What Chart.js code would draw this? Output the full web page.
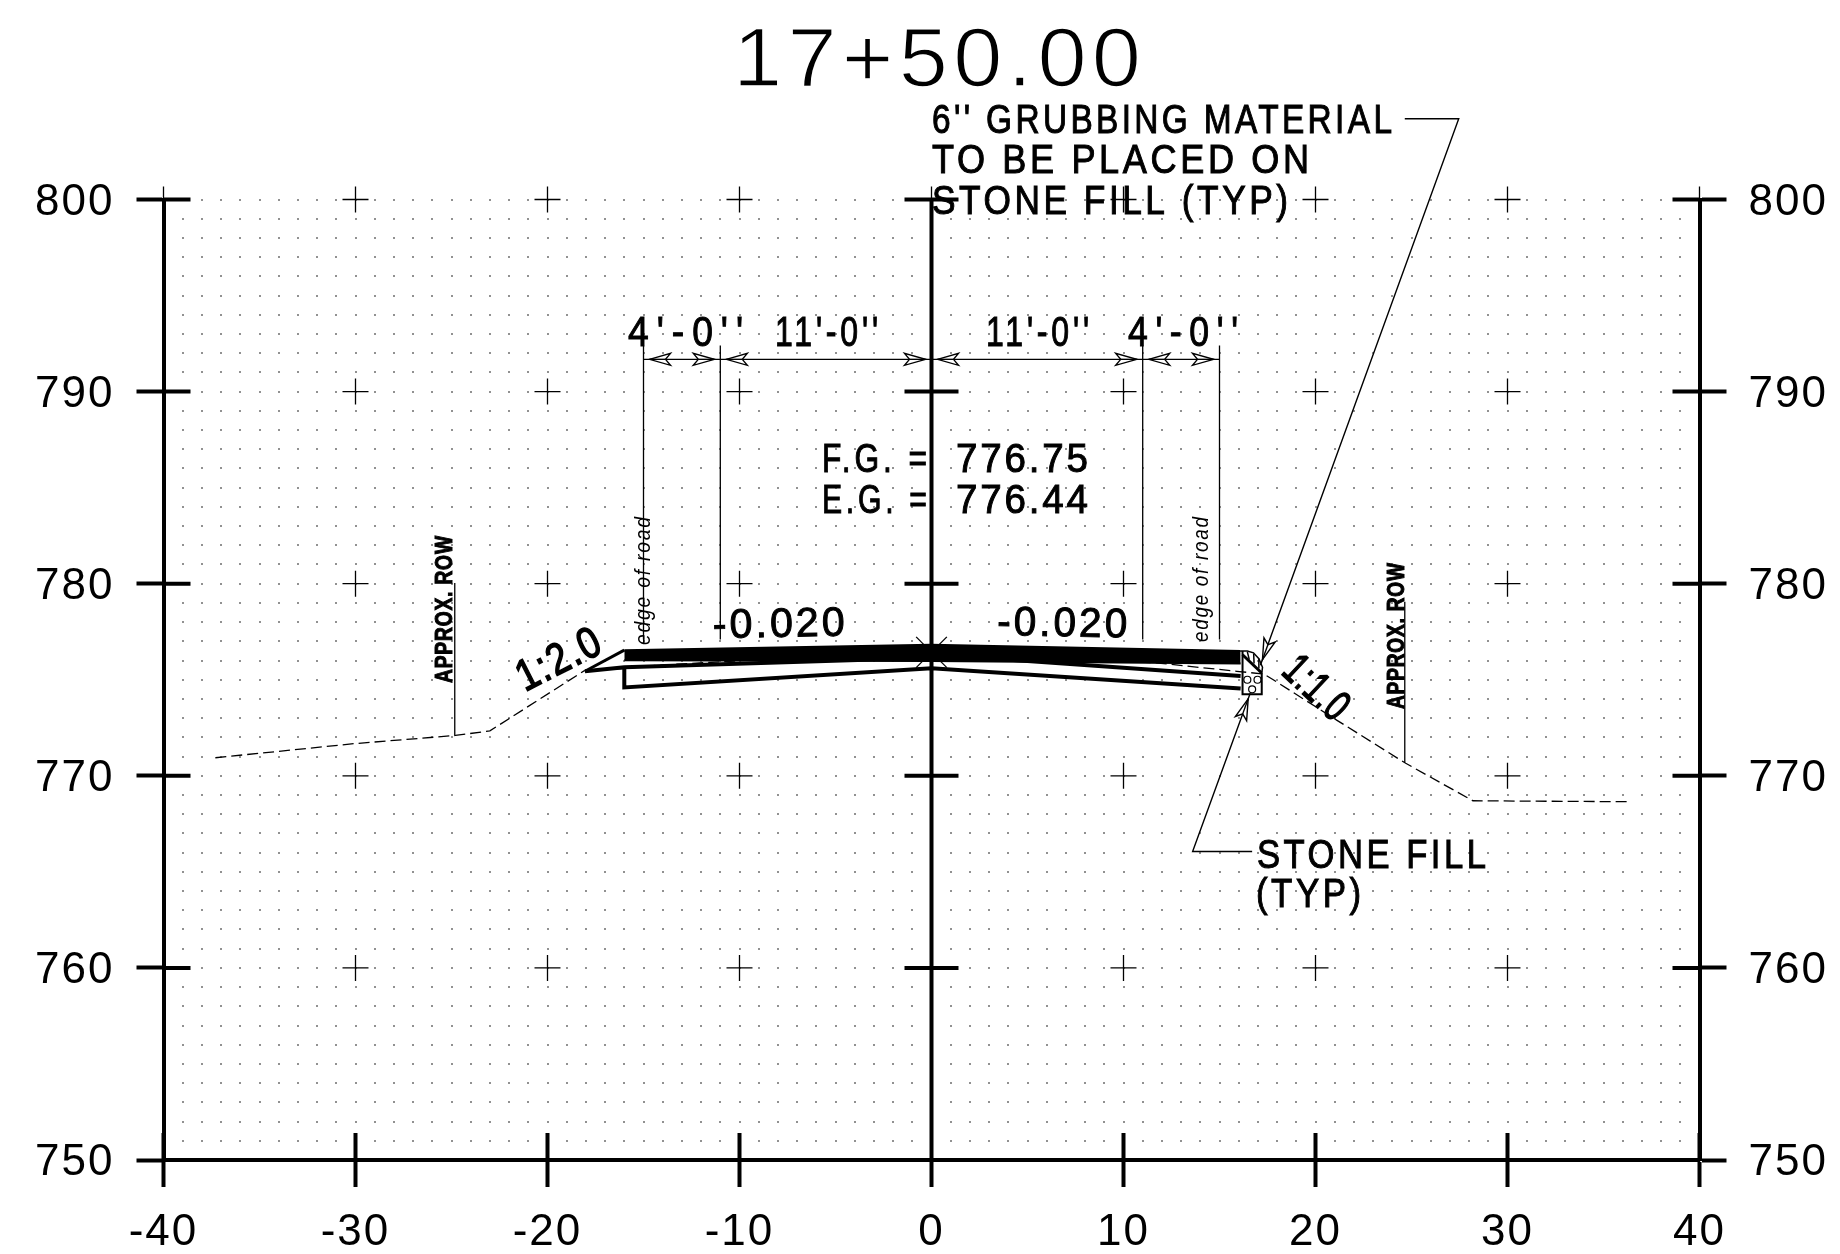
<!DOCTYPE html>
<html>
<head>
<meta charset="utf-8">
<title>17+50.00</title>
<script src="https://cdn.jsdelivr.net/npm/chart.js@4"></script>
<style>
  html, body { margin: 0; padding: 0; background: #fff; }
  canvas { display: block; }
</style>
</head>
<body>
<canvas id="sectionChart" width="1840" height="1254"></canvas>
<script>
// Axis values
const offsetTicks = [-40, -30, -20, -10, 0, 10, 20, 30, 40];
const elevationTicks = [750, 760, 770, 780, 790, 800];

// Existing ground
const groundX = [-37.3, -30.1, -24.8, -23, -18.1, -15.8, -14.5, -8, 0, 8, 11.8, 15.9, 17.3, 17.8, 21.1, 24.7, 28.2, 36.35];
const groundY = [770.94, 771.67, 772.1, 772.34, 775.46, 775.6, 775.74, 776.1, 776.44, 776.05, 775.87, 775.44, 775.3, 775, 772.9, 770.65, 768.7, 768.65];

// Road layers
const pavementX = [-16, 0, 16.1];
const pavementTop = [776.54, 776.82, 776.5];
const pavementBottom = [776.02, 775.98, 775.85];
const sliverLeftX = [-15.8, -14.5];
const sliverLeftY = [776.3, 776.33];
const sliverRightX = [14.8, 16.1];
const sliverRightY = [776.38, 776.36];
const baseUpperX = [-18.05, -16, -3, 3.7, 16.1];
const baseUpperY = [775.44, 775.65, 776.05, 776.07, 775.2];
const baseLowerX = [-16, -16, 0, 16.1];
const baseLowerY = [775.65, 774.6, 775.6, 774.55];
const fillSlopeX = [-18.05, -16];
const fillSlopeY = [775.44, 776.54];
const centerMarkAX = [-0.8, 0.8];
const centerMarkAY = [775.63, 777.23];
const centerMarkBX = [-0.8, 0.8];
const centerMarkBY = [777.23, 775.63];

// Stone fill at the right edge
const stoneBoxX = [16.2, 16.2, 17.2, 17.2];
const stoneBoxY = [776.5, 774.25, 774.25, 775.35];
const stoneDiagonalX = [16.2, 17.2];
const stoneDiagonalY = [776.3, 775.35];
const grubbingArcX = [16.1, 16.45, 16.77, 17.05, 17.24, 17.2];
const grubbingArcY = [776.5, 776.5, 776.4, 776.1, 775.65, 775.35];
const hatchStartX = [16.55, 16.8, 17.02];
const hatchStartY = [776.05, 775.85, 775.62];
const hatchEndX = [16.45, 16.78, 17.05];
const hatchEndY = [776.45, 776.35, 776.1];
const stoneX = [16.98, 16.45, 16.7];
const stoneY = [775.0, 775.0, 774.5];

// Dimension and leader lines
const dimensionY = 791.68;
const dimensionX = [-15, -11, 0, 11, 15];
const extensionX = [-15, -11, 11, 15];
const extensionTop = [792.4, 792.4, 792.4, 792.4];
const extensionBottom = [777.1, 777.1, 777.1, 777.1];
const grubbingLeaderX = [24.65, 27.46, 17.13];
const grubbingLeaderY = [804.2, 804.2, 775.75];
const stoneLeaderX = [16.7, 13.6, 16.6];
const stoneLeaderY = [766.06, 766.06, 774.3];
const rowLeftX = [-24.83, -24.83];
const rowLeftY = [780.04, 772.1];
const rowRightX = [24.65, 24.65];
const rowRightY = [779.06, 770.7];

function points(xs, ys) {
  return xs.map((x, i) => ({ x: x, y: ys[i] }));
}

function polyline(xs, ys, width, extra) {
  return Object.assign({
    data: points(xs, ys),
    borderColor: "#000",
    borderWidth: width,
    pointRadius: 0,
    fill: false,
    clip: false,
    tension: 0,
  }, extra || {});
}

const datasets = [
  polyline(pavementX, pavementTop, 2, { fill: "+1", backgroundColor: "#000" }),
  polyline(pavementX, pavementBottom, 2),
  polyline(sliverLeftX, sliverLeftY, 1.5, { borderColor: "#fff" }),
  polyline(sliverRightX, sliverRightY, 1.5, { borderColor: "#fff" }),
  polyline(groundX, groundY, 1.3, { borderDash: [11, 5] }),
  polyline(baseUpperX, baseUpperY, 4),
  polyline(baseLowerX, baseLowerY, 4),
  polyline(fillSlopeX, fillSlopeY, 3),
  polyline(centerMarkAX, centerMarkAY, 1.3),
  polyline(centerMarkBX, centerMarkBY, 1.3),
  polyline(stoneBoxX, stoneBoxY, 2),
  polyline(stoneDiagonalX, stoneDiagonalY, 3),
  polyline(grubbingArcX, grubbingArcY, 1.5),
  polyline(stoneX, stoneY, 1, {
    showLine: false, pointRadius: 3.5, pointBackgroundColor: "#fff",
    pointBorderColor: "#000", pointBorderWidth: 1.2,
  }),
  polyline(grubbingLeaderX, grubbingLeaderY, 1.4),
  polyline(stoneLeaderX, stoneLeaderY, 1.4),
  polyline(rowLeftX, rowLeftY, 1.3),
  polyline(rowRightX, rowRightY, 1.3),
  polyline([dimensionX[0], dimensionX[4]], [dimensionY, dimensionY], 1.4),
];
hatchStartX.forEach((x, i) => {
  datasets.push(polyline([x, hatchEndX[i]], [hatchStartY[i], hatchEndY[i]], 1.5));
});
extensionX.forEach((x, i) => {
  datasets.push(polyline([x, x], [extensionTop[i], extensionBottom[i]], 1.3));
});

const SANS = '"Liberation Sans"';

// Text placed on the sheet: x, y = baseline start, w = target width, ls = letter gap
const notes = [
  { t: "17+50.00", x: 733, y: 86, size: 84, w: 408, ls: 5, sw: 0, thin: 1.6 },
  { t: "6'' GRUBBING MATERIAL", x: 932, y: 133, size: 40, w: 460, ls: 4 },
  { t: "TO BE PLACED ON", x: 932, y: 173, size: 40, w: 377, ls: 4 },
  { t: "STONE FILL (TYP)", x: 932, y: 214, size: 40, w: 356, ls: 4 },
  { t: "4'-0''", x: 628, y: 346, size: 42, w: 115, ls: 9 },
  { t: "11'-0''", x: 775, y: 346, size: 42, w: 103, ls: 5 },
  { t: "11'-0''", x: 986, y: 346, size: 42, w: 103, ls: 5 },
  { t: "4'-0''", x: 1128, y: 346, size: 42, w: 110, ls: 9 },
  { t: "F.G. =", x: 822, y: 472, size: 41, w: 105, ls: 5 },
  { t: "776.75", x: 956, y: 472, size: 41, w: 132, ls: 3 },
  { t: "E.G. =", x: 822, y: 513, size: 41, w: 105, ls: 5 },
  { t: "776.44", x: 956, y: 513, size: 41, w: 132, ls: 3 },
  { t: "-0.020", x: 713, y: 638, size: 41, w: 132, rot: -1.1, ls: 3 },
  { t: "-0.020", x: 997, y: 635, size: 41, w: 130, rot: 1.1, ls: 3 },
  { t: "1:2.0", x: 525, y: 692, size: 44, w: 89, rot: -27, ls: 2, sw: 1.5 },
  { t: "1:1.0", x: 1280, y: 673, size: 44, w: 73, rot: 43, ls: 2, sw: 1.5 },
  { t: "STONE FILL", x: 1257, y: 868, size: 40, w: 229, ls: 4 },
  { t: "(TYP)", x: 1256, y: 907, size: 40, w: 105, ls: 4 },
  { t: "APPROX. ROW", x: 452, y: 683, size: 23, w: 147, rot: -90, weight: "bold", ls: 1 },
  { t: "APPROX. ROW", x: 1404, y: 709, size: 23, w: 146, rot: -90, weight: "bold", ls: 1 },
  { t: "edge of road", x: 650, y: 645, size: 22, w: 128, rot: -90, style: "italic", sw: 0, ls: 2 },
  { t: "edge of road", x: 1208, y: 642, size: 22, w: 125, rot: -90, style: "italic", sw: 0, ls: 2 },
];

function drawArrow(ctx, tipX, tipY, fromX, fromY) {
  const a = Math.atan2(fromY - tipY, fromX - tipX);
  ctx.save();
  ctx.translate(tipX, tipY);
  ctx.rotate(a);
  ctx.lineWidth = 1.4;
  ctx.strokeStyle = "#000";
  ctx.fillStyle = "#fff";
  ctx.beginPath();
  ctx.moveTo(6, 0);
  ctx.lineTo(27, -6);
  ctx.lineTo(22, 0);
  ctx.lineTo(27, 6);
  ctx.closePath();
  ctx.fill();
  ctx.stroke();
  ctx.beginPath();
  ctx.moveTo(6, 0);
  ctx.lineTo(22, 0);
  ctx.stroke();
  ctx.restore();
}

// Dot field, crosses and the tick halves inside the plot
const sheetGrid = {
  id: "sheetGrid",
  beforeDraw(chart) {
    chart.ctx.letterSpacing = "2px";
  },
  beforeDatasetsDraw(chart) {
    const ctx = chart.ctx;
    const sx = chart.scales.x;
    const sy = chart.scales.y;
    ctx.save();
    ctx.letterSpacing = "0px";

    ctx.fillStyle = "#555";
    for (let ev = 751; ev <= 800; ev++) {
      for (let off = -39; off <= 39; off++) {
        if (ev === 800 && off === -39) continue;
        ctx.fillRect(Math.round(sx.getPixelForValue(off)) - 0.8, Math.round(sy.getPixelForValue(ev)) - 0.8, 1.6, 1.6);
      }
    }

    ctx.strokeStyle = "#000";
    ctx.lineWidth = 1.3;
    offsetTicks.forEach((off) => {
      elevationTicks.forEach((ev) => {
        const px = sx.getPixelForValue(off);
        const py = sy.getPixelForValue(ev);
        ctx.beginPath();
        ctx.moveTo(px - 13, py);
        ctx.lineTo(px + 13, py);
        ctx.moveTo(px, py - 13);
        ctx.lineTo(px, py + 13);
        ctx.stroke();
      });
    });

    ctx.lineWidth = 4;
    const zero = sx.getPixelForValue(0);
    ctx.beginPath();
    ctx.moveTo(zero, sy.getPixelForValue(800));
    ctx.lineTo(zero, sy.getPixelForValue(750));
    elevationTicks.forEach((ev) => {
      const py = sy.getPixelForValue(ev);
      ctx.moveTo(sx.left, py);
      ctx.lineTo(sx.left + 27, py);
      ctx.moveTo(sx.right, py);
      ctx.lineTo(sx.right - 27, py);
      if (ev !== 750) {
        ctx.moveTo(zero - 27, py);
        ctx.lineTo(zero + 27, py);
      }
    });
    offsetTicks.forEach((off) => {
      const px = sx.getPixelForValue(off);
      ctx.moveTo(px, sy.bottom);
      ctx.lineTo(px, sy.bottom - 27);
    });
    ctx.stroke();
    ctx.restore();
  },
  afterDatasetsDraw(chart) {
    const ctx = chart.ctx;
    const sx = chart.scales.x;
    const sy = chart.scales.y;
    const X = (v) => sx.getPixelForValue(v);
    const Y = (v) => sy.getPixelForValue(v);
    ctx.save();
    ctx.letterSpacing = "0px";

    // dimension arrows
    for (let i = 0; i < dimensionX.length - 1; i++) {
      const a = X(dimensionX[i]);
      const b = X(dimensionX[i + 1]);
      const py = Y(dimensionY);
      drawArrow(ctx, a, py, b, py);
      drawArrow(ctx, b, py, a, py);
    }
    // leader arrows
    drawArrow(ctx, X(grubbingLeaderX[2]), Y(grubbingLeaderY[2]), X(grubbingLeaderX[1]), Y(grubbingLeaderY[1]));
    drawArrow(ctx, X(stoneLeaderX[2]), Y(stoneLeaderY[2]), X(stoneLeaderX[1]), Y(stoneLeaderY[1]));

    // text
    notes.forEach((n) => {
      ctx.save();
      ctx.font = (n.style || "normal") + " " + (n.weight || "normal") + " " + n.size + "px " + SANS;
      ctx.letterSpacing = (n.ls || 0) + "px";
      ctx.fillStyle = "#000";
      ctx.strokeStyle = "#000";
      ctx.textBaseline = "alphabetic";
      ctx.textAlign = "left";
      ctx.translate(n.x, n.y);
      if (n.rot) ctx.rotate((n.rot * Math.PI) / 180);
      ctx.scale(n.w / (ctx.measureText(n.t).width - (n.ls || 0)), 1);
      ctx.fillText(n.t, 0, 0);
      const sw = n.sw === undefined ? 1 : n.sw;
      if (sw > 0) {
        ctx.lineWidth = sw;
        ctx.strokeText(n.t, 0, 0);
      }
      if (n.thin) {
        ctx.strokeStyle = "#fff";
        ctx.lineWidth = n.thin;
        ctx.strokeText(n.t, 0, 0);
      }
      ctx.restore();
    });
    ctx.restore();
  },
};

function axisOptions(position, ticks, size, padding, labelOffset) {
  return {
    type: "linear",
    position: position,
    min: ticks[0],
    max: ticks[ticks.length - 1],
    afterBuildTicks(scale) {
      scale.ticks = ticks.map((v) => ({ value: v }));
    },
    afterFit(scale) {
      if (position === "bottom") scale.height = size;
      else scale.width = size;
    },
    border: { display: true, color: "#000", width: 4 },
    grid: { drawOnChartArea: false, drawTicks: true, tickLength: 27, tickWidth: 4, tickColor: "#000" },
    ticks: {
      color: "#000",
      padding: padding,
      labelOffset: labelOffset,
      maxRotation: 0,
      autoSkip: false,
      font: { family: "Liberation Sans", size: 44 },
      callback: (value) => String(value),
    },
  };
}

window.sectionChart = new Chart(document.getElementById("sectionChart"), {
  type: "line",
  data: { datasets: datasets },
  options: {
    responsive: false,
    animation: false,
    devicePixelRatio: 1,
    layout: { padding: { top: 199.5, left: 0, right: 0, bottom: 0 } },
    plugins: { legend: { display: false }, tooltip: { enabled: false }, title: { display: false } },
    scales: {
      x: axisOptions("bottom", offsetTicks, 94, 19, 0),
      y: axisOptions("left", elevationTicks, 163.5, 22, 3),
      yRight: axisOptions("right", elevationTicks, 140.5, 22, 3),
    },
  },
  plugins: [sheetGrid],
});
</script>
</body>
</html>
